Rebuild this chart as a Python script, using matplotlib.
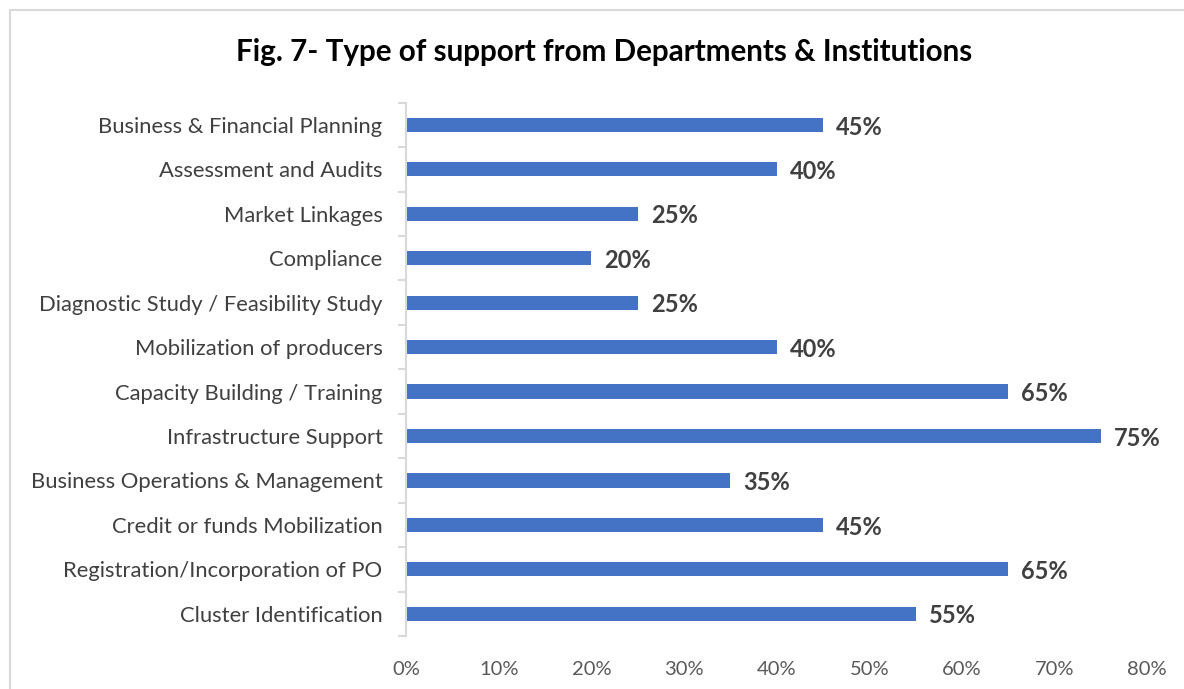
import matplotlib.pyplot as plt
from matplotlib.patches import Rectangle
from matplotlib.ticker import PercentFormatter

# support categories, listed bottom to top as they stack on the chart
categories = [
    "Cluster Identification",
    "Registration/Incorporation of PO",
    "Credit or funds Mobilization",
    "Business Operations & Management",
    "Infrastructure Support",
    "Capacity Building / Training",
    "Mobilization of producers",
    "Diagnostic Study / Feasibility Study",
    "Compliance",
    "Market Linkages",
    "Assessment and Audits",
    "Business & Financial Planning",
]
shares = [55, 65, 45, 35, 75, 65, 40, 25, 20, 25, 40, 45]
x_ticks = [0, 10, 20, 30, 40, 50, 60, 70, 80]

plt.rcParams['font.family'] = ['Lato', 'DejaVu Sans']

fig = plt.figure(figsize=(11.84, 6.89), dpi=100)
ax = fig.add_axes([0.343, 0.077, 0.626, 0.774])

pos = list(range(len(categories)))
bars = ax.barh(pos, shares, height=0.32, color='#4472C4')

for b, v in zip(bars, shares):
    ax.text(v + 1.4, b.get_y() + b.get_height() / 2 - 0.05, f"{v}%",
            va='center', ha='left', fontsize=17, fontweight='bold', color='#404040')

ax.set_xlim(0, 80)
ax.set_ylim(-0.5, len(categories) - 0.5)
ax.set_xticks(x_ticks)
ax.xaxis.set_major_formatter(PercentFormatter(decimals=0))
ax.set_yticks(pos)
ax.set_yticklabels(categories)
ax.set_yticks([p - 0.5 for p in pos] + [len(pos) - 0.5], minor=True)

for s in ['top', 'right', 'bottom']:
    ax.spines[s].set_visible(False)
ax.spines['left'].set_color('#d9d9d9')
ax.spines['left'].set_linewidth(1.5)

ax.tick_params(axis='y', which='major', length=0, pad=17, labelsize=15.8, labelcolor='#404040')
ax.tick_params(axis='y', which='minor', length=6, width=1.5, color='#d9d9d9')
ax.tick_params(axis='x', length=0, pad=18, labelsize=14.5, labelcolor='#595959')

fig.text(0.51, 0.924, "Fig. 7- Type of support from Departments & Institutions",
         ha='center', va='center', fontsize=21.3, fontweight='bold', color='black')

# light frame around the chart
fig.patches.append(Rectangle((10 / 1184, -0.05), 1.1, 1.05 - 10 / 689,
                             transform=fig.transFigure, fill=False,
                             edgecolor='#d9d9d9', linewidth=1.5))

fig.savefig("out.png", dpi=100, facecolor='white')
